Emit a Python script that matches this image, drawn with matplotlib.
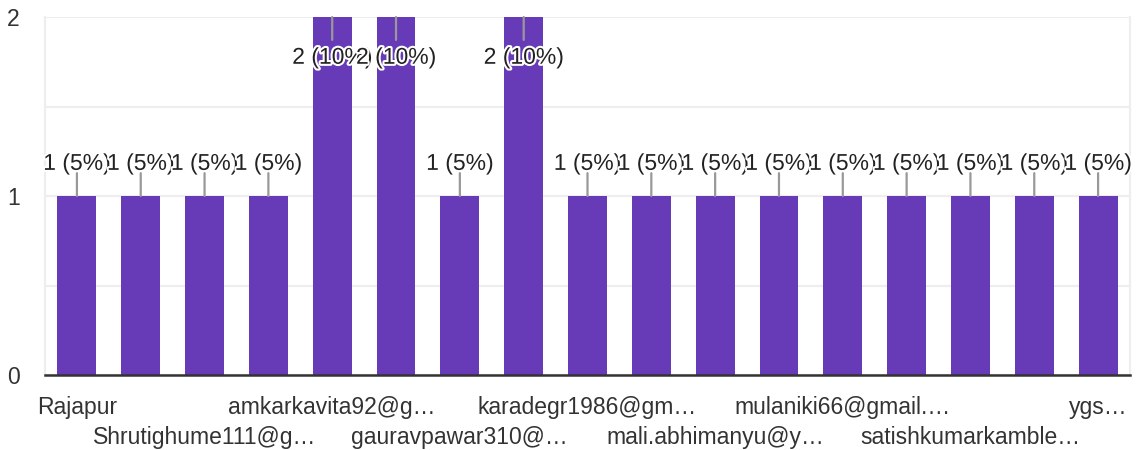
import matplotlib
matplotlib.use("Agg")
import matplotlib.pyplot as plt
import matplotlib.patheffects as pe

# responses per answer (20 responses in total)
labels = ["Rajapur", "", "Shrutighume111@g…", "", "amkarkavita92@g…", "",
          "gauravpawar310@…", "", "karadegr1986@gm…", "", "mali.abhimanyu@y…", "",
          "mulaniki66@gmail.…", "", "satishkumarkamble…", "", "ygs…"]
counts = [1, 1, 1, 1, 2, 2, 1, 2, 1, 1, 1, 1, 1, 1, 1, 1, 1]
y_ticks = [0, 1, 2]

total = sum(counts)
purple = "#673ab7"

plt.rcParams['font.family'] = ['Liberation Sans', 'DejaVu Sans']

fig = plt.figure(figsize=(11.43, 4.5), dpi=100)
ax = fig.add_axes([45 / 1143, 1 - 375 / 450, 1085 / 1143, 358 / 450])

x = list(range(len(counts)))
ax.bar(x, counts, width=0.61, color=purple, zorder=2)

ax.set_xlim(-0.5, len(counts) - 0.5)
ax.set_ylim(0, 2)

# grid
ax.set_yticks(y_ticks)
ax.set_yticks([0.5, 1.5], minor=True)
ax.grid(axis='y', which='both', color='#eeeeee', lw=1.6, zorder=0)
ax.tick_params(axis='y', which='both', length=0, labelsize=16.5, labelcolor='#333333', pad=18)

for s in ['left', 'right', 'top']:
    ax.spines[s].set_color('#eeeeee')
    ax.spines[s].set_linewidth(1.6)
ax.spines['top'].set_visible(False)
ax.spines['bottom'].set_color('#333333')
ax.spines['bottom'].set_linewidth(1.8)
ax.spines['bottom'].set_zorder(3)

# x labels in two staggered rows
row1 = [i for i in x if i % 4 == 0]
row2 = [i for i in x if i % 4 == 2]
ax.set_xticks(row1)
ax.set_xticklabels([labels[i] for i in row1])
ax.set_xticks(row2, minor=True)
ax.set_xticklabels([labels[i] for i in row2], minor=True)
ax.tick_params(axis='x', which='major', length=0, labelsize=16.5, labelcolor='#333333', pad=15)
ax.tick_params(axis='x', which='minor', length=0, labelsize=16.5, labelcolor='#333333', pad=37)

# value labels with leader lines
halo = [pe.withStroke(linewidth=3, foreground='white')]
ymax = ax.get_ylim()[1]
for i, v in enumerate(counts):
    txt = f"{v} ({v / total * 100:.0f}%)"
    d = 1 if v < ymax else -1
    ax.annotate("", xy=(i, v), xytext=(0, d * 16.5), textcoords='offset points',
                arrowprops=dict(arrowstyle='-', color='#999999', lw=1.6,
                                shrinkA=0, shrinkB=0), zorder=4)
    ax.annotate(txt, xy=(i, v), xytext=(0, 23.5 if d > 0 else -29), textcoords='offset points',
                ha='center', va='center', fontsize=16.5, color='#222222',
                path_effects=halo, zorder=5, annotation_clip=False)

fig.savefig("out.png", dpi=100)
